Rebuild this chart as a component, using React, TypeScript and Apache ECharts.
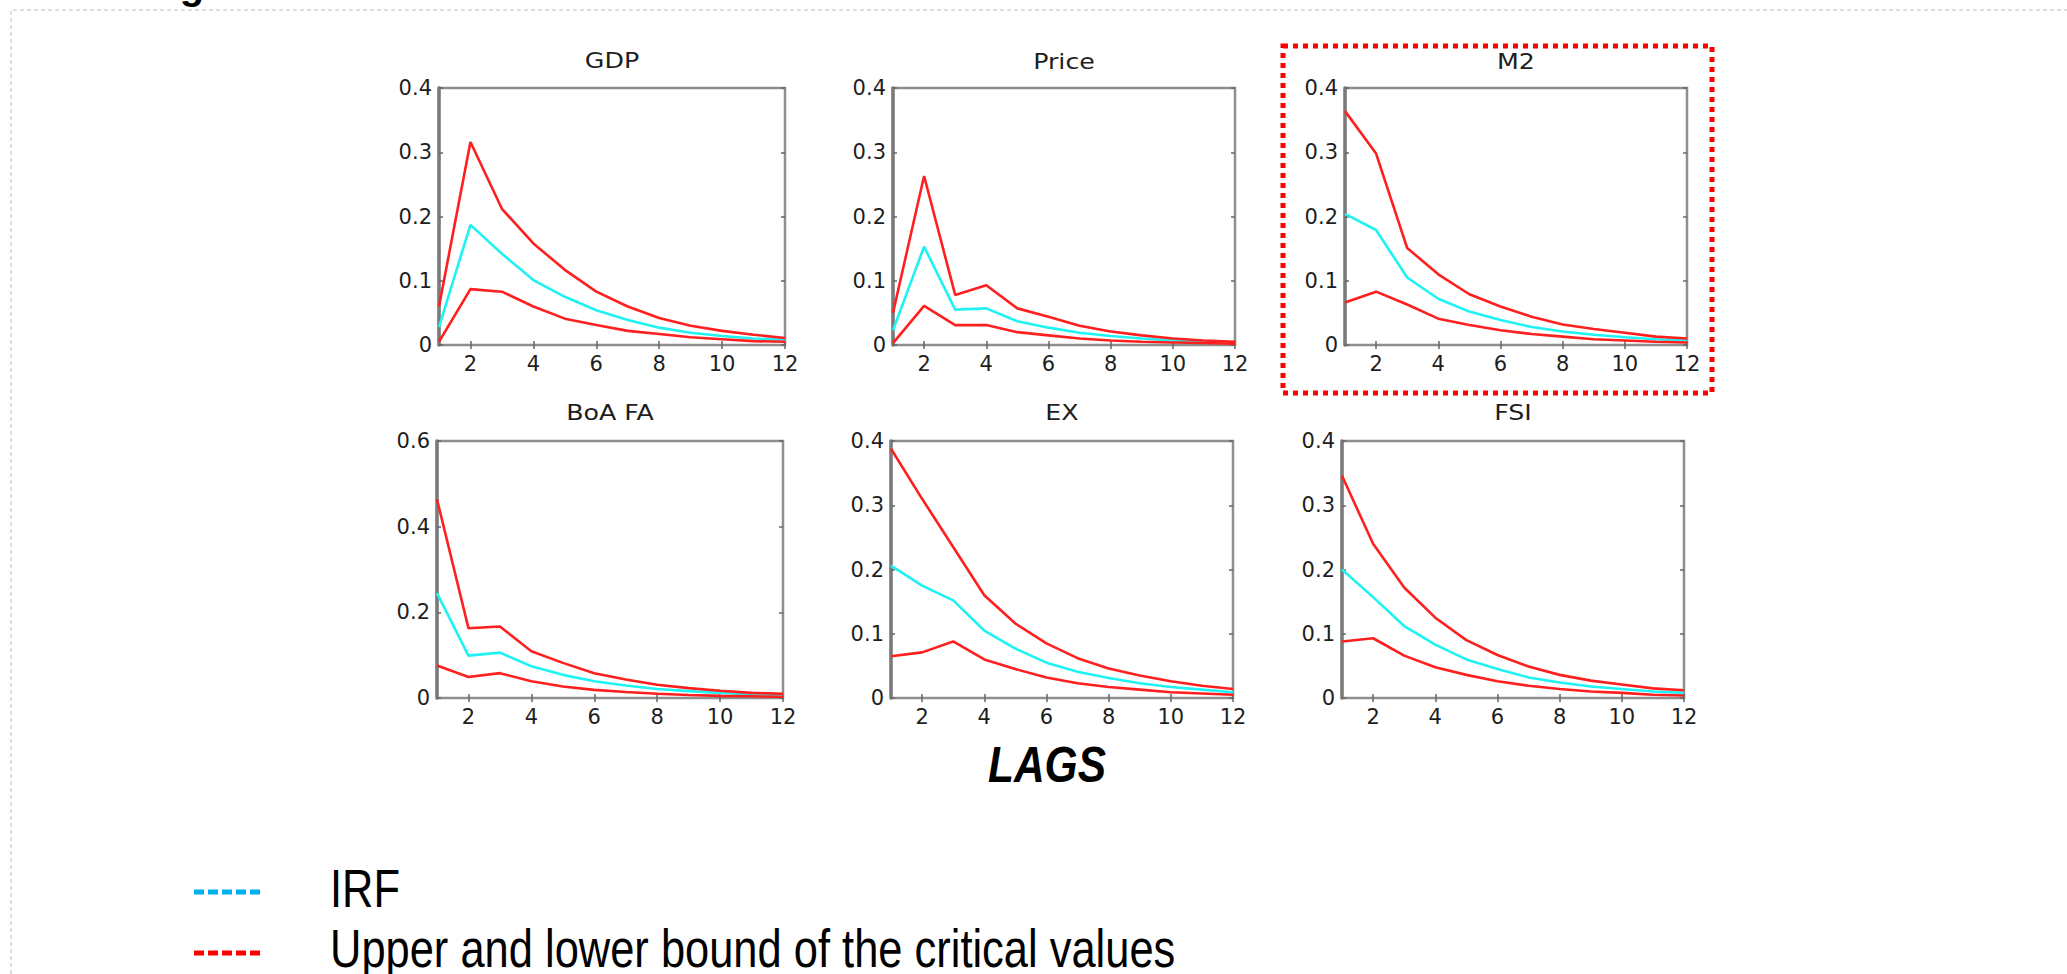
import React, { useEffect, useRef } from 'react';
import * as echarts from 'echarts';

// ---------- data ----------
const LAGS = ['1', '2', '3', '4', '5', '6', '7', '8', '9', '10', '11', '12'];
const PANEL_TITLES = ['GDP', 'Price', 'M2', 'BoA FA', 'EX', 'FSI'];
const Y_MAX = [0.4, 0.4, 0.4, 0.6, 0.4, 0.4];
const Y_STEP = [0.1, 0.1, 0.1, 0.2, 0.1, 0.1];

const GDP_UPPER = [0.06, 0.316, 0.212, 0.158, 0.117, 0.083, 0.06, 0.042, 0.03, 0.022, 0.016, 0.011];
const GDP_IRF = [0.028, 0.187, 0.142, 0.101, 0.075, 0.054, 0.039, 0.027, 0.019, 0.014, 0.01, 0.008];
const GDP_LOWER = [0.005, 0.087, 0.083, 0.06, 0.041, 0.031, 0.022, 0.017, 0.012, 0.009, 0.006, 0.005];

const PRICE_UPPER = [0.05, 0.263, 0.078, 0.093, 0.057, 0.044, 0.03, 0.021, 0.015, 0.01, 0.007, 0.005];
const PRICE_IRF = [0.023, 0.153, 0.055, 0.057, 0.037, 0.027, 0.019, 0.014, 0.01, 0.007, 0.005, 0.004];
const PRICE_LOWER = [0.003, 0.061, 0.031, 0.031, 0.02, 0.015, 0.01, 0.007, 0.005, 0.004, 0.003, 0.002];

const M2_UPPER = [0.364, 0.298, 0.151, 0.11, 0.079, 0.06, 0.044, 0.032, 0.025, 0.019, 0.013, 0.01];
const M2_IRF = [0.204, 0.179, 0.105, 0.072, 0.052, 0.039, 0.028, 0.021, 0.016, 0.012, 0.009, 0.007];
const M2_LOWER = [0.066, 0.083, 0.063, 0.041, 0.031, 0.023, 0.017, 0.013, 0.009, 0.007, 0.005, 0.004];

const BOA_UPPER = [0.464, 0.163, 0.167, 0.109, 0.082, 0.058, 0.043, 0.031, 0.023, 0.017, 0.012, 0.01];
const BOA_IRF = [0.245, 0.099, 0.106, 0.074, 0.054, 0.039, 0.029, 0.021, 0.016, 0.012, 0.009, 0.007];
const BOA_LOWER = [0.076, 0.049, 0.058, 0.039, 0.027, 0.019, 0.014, 0.01, 0.007, 0.005, 0.004, 0.003];

const EX_UPPER = [0.388, 0.31, 0.235, 0.16, 0.116, 0.085, 0.062, 0.046, 0.035, 0.026, 0.019, 0.014];
const EX_IRF = [0.206, 0.175, 0.152, 0.105, 0.077, 0.055, 0.041, 0.031, 0.023, 0.017, 0.013, 0.009];
const EX_LOWER = [0.065, 0.071, 0.088, 0.06, 0.045, 0.032, 0.023, 0.017, 0.013, 0.009, 0.007, 0.005];

const FSI_UPPER = [0.346, 0.24, 0.172, 0.125, 0.09, 0.067, 0.049, 0.036, 0.027, 0.021, 0.015, 0.012];
const FSI_IRF = [0.2, 0.157, 0.112, 0.083, 0.06, 0.045, 0.032, 0.024, 0.018, 0.014, 0.01, 0.008];
const FSI_LOWER = [0.088, 0.093, 0.066, 0.048, 0.036, 0.026, 0.019, 0.014, 0.01, 0.008, 0.005, 0.004];

const PANEL_DATA = [
  [GDP_UPPER, GDP_IRF, GDP_LOWER],
  [PRICE_UPPER, PRICE_IRF, PRICE_LOWER],
  [M2_UPPER, M2_IRF, M2_LOWER],
  [BOA_UPPER, BOA_IRF, BOA_LOWER],
  [EX_UPPER, EX_IRF, EX_LOWER],
  [FSI_UPPER, FSI_IRF, FSI_LOWER],
];

const X_AXIS_TITLE = 'LAGS';
const LEGEND_IRF = 'IRF';
const LEGEND_BOUNDS = 'Upper and lower bound of the critical values';

// ---------- layout / style ----------
const GRIDS = [
  { left: 439, top: 88, width: 346, height: 257 },
  { left: 893, top: 88, width: 342, height: 257 },
  { left: 1345, top: 88, width: 342, height: 257 },
  { left: 437, top: 441, width: 346, height: 257 },
  { left: 891, top: 441, width: 342, height: 257 },
  { left: 1342, top: 441, width: 342, height: 257 },
];
const TITLE_Y = [61, 62, 62, 413, 413, 413];

const RED = '#ff1f1f';
const CYAN = '#1ff2f2';
const AXIS_FONT = '"DejaVu Sans", "Liberation Sans", Arial, sans-serif';
const SANS = '"Liberation Sans", Arial, Helvetica, sans-serif';

function buildOption() {
  const grid: any[] = [];
  const xAxis: any[] = [];
  const yAxis: any[] = [];
  const series: any[] = [];
  const graphic: any[] = [];

  GRIDS.forEach((g, i) => {
    grid.push({
      left: g.left,
      top: g.top,
      width: g.width,
      height: g.height,
      show: true,
      borderColor: '#8e8e8e',
      borderWidth: 2.5,
      backgroundColor: '#ffffff',
    });
    const oddOnly = (idx: number) => idx % 2 === 1;
    xAxis.push({
      type: 'category',
      gridIndex: i,
      data: LAGS,
      boundaryGap: false,
      position: 'bottom',
      axisLine: { show: false },
      axisTick: { show: true, inside: true, length: 4, interval: oddOnly, lineStyle: { color: '#666', width: 1.5 } },
      axisLabel: {
        interval: oddOnly,
        margin: 8,
        fontSize: 21,
        fontFamily: AXIS_FONT,
        color: '#1e1e1e',
      },
      splitLine: { show: false },
    });
    xAxis.push({
      type: 'category',
      gridIndex: i,
      data: LAGS,
      boundaryGap: false,
      position: 'top',
      axisLine: { show: false },
      axisTick: { show: true, inside: true, length: 4, interval: oddOnly, lineStyle: { color: '#666', width: 1.5 } },
      axisLabel: { show: false },
      splitLine: { show: false },
    });
    yAxis.push({
      type: 'value',
      gridIndex: i,
      min: 0,
      max: Y_MAX[i],
      interval: Y_STEP[i],
      position: 'left',
      axisLine: { show: true, lineStyle: { color: '#7a7a7a', width: 3.5 } },
      axisTick: { show: true, inside: true, length: 4, lineStyle: { color: '#666', width: 1.5 } },
      axisLabel: {
        margin: 7,
        fontSize: 21,
        fontFamily: AXIS_FONT,
        color: '#1e1e1e',
      },
      splitLine: { show: false },
    });
    yAxis.push({
      type: 'value',
      gridIndex: i,
      min: 0,
      max: Y_MAX[i],
      interval: Y_STEP[i],
      position: 'right',
      axisLine: { show: false },
      axisTick: { show: true, inside: true, length: 4, lineStyle: { color: '#666', width: 1.5 } },
      axisLabel: { show: false },
      splitLine: { show: false },
    });

    const [upper, irf, lower] = PANEL_DATA[i];
    const mk = (name: string, data: number[], color: string, z: number) => ({
      type: 'line',
      name,
      xAxisIndex: i * 2,
      yAxisIndex: i * 2,
      data,
      symbol: 'none',
      z,
      lineStyle: { color, width: 2.6 },
      itemStyle: { color },
    });
    series.push(mk(PANEL_TITLES[i] + ' upper', upper, RED, 3));
    series.push(mk(PANEL_TITLES[i] + ' IRF', irf, CYAN, 2));
    series.push(mk(PANEL_TITLES[i] + ' lower', lower, RED, 3));

    graphic.push({
      type: 'text',
      x: g.left + g.width / 2,
      y: TITLE_Y[i],
      scaleX: 1.15,
      style: {
        text: PANEL_TITLES[i],
        fill: '#1e1e1e',
        font: '22px ' + AXIS_FONT,
        textAlign: 'center',
        textVerticalAlign: 'middle',
        verticalAlign: 'middle',
      },
    });
  });

  // outer dashed frame (page border)
  graphic.push({
    type: 'polyline',
    shape: { points: [[11, 974], [11, 10], [2067, 10]] },
    style: { fill: 'none', stroke: '#bcbcbc', lineWidth: 1, lineDash: [4, 3] },
    silent: true,
  });

  // clipped caption fragment at top
  graphic.push({
    type: 'text',
    x: 192,
    y: -15,
    style: {
      text: 'g',
      fill: '#000',
      font: 'bold 40px ' + SANS,
      textAlign: 'center',
      textVerticalAlign: 'middle',
      verticalAlign: 'middle',
    },
  });

  // red dotted highlight box around M2
  graphic.push({
    type: 'rect',
    shape: { x: 1283, y: 46, width: 429, height: 347 },
    style: { fill: 'none', stroke: '#ff0000', lineWidth: 5, lineDash: [5, 5] },
    silent: true,
    z: 10,
  });

  // LAGS
  graphic.push({
    type: 'text',
    x: 1047,
    y: 765,
    scaleX: 0.85,
    style: {
      text: X_AXIS_TITLE,
      fill: '#000',
      font: 'italic bold 50px ' + SANS,
      textAlign: 'center',
      textVerticalAlign: 'middle',
      verticalAlign: 'middle',
    },
  });

  // legend annotations
  graphic.push({
    type: 'line',
    shape: { x1: 194, y1: 892, x2: 264, y2: 892 },
    style: { stroke: '#00b0f0', lineWidth: 5, lineDash: [10, 4] },
  });
  graphic.push({
    type: 'line',
    shape: { x1: 194, y1: 953, x2: 264, y2: 953 },
    style: { stroke: '#ff0000', lineWidth: 5, lineDash: [10, 4] },
  });
  graphic.push({
    type: 'text',
    x: 330,
    y: 888,
    scaleX: 0.82,
    style: {
      text: LEGEND_IRF,
      fill: '#000',
      font: '53px ' + SANS,
      textAlign: 'left',
      textVerticalAlign: 'middle',
      verticalAlign: 'middle',
    },
  });
  graphic.push({
    type: 'text',
    x: 330,
    y: 948,
    scaleX: 0.82,
    style: {
      text: LEGEND_BOUNDS,
      fill: '#000',
      font: '53px ' + SANS,
      textAlign: 'left',
      textVerticalAlign: 'middle',
      verticalAlign: 'middle',
    },
  });

  return {
    animation: false,
    backgroundColor: '#ffffff',
    grid,
    xAxis,
    yAxis,
    series,
    graphic,
  };
}

export default function App() {
  const ref = useRef<HTMLDivElement>(null);
  useEffect(() => {
    if (!ref.current) return;
    const chart = echarts.init(ref.current, undefined, { renderer: 'svg' });
    chart.setOption(buildOption() as any);
    return () => chart.dispose();
  }, []);
  return (
    <div
      ref={ref}
      style={{ position: 'fixed', left: 0, top: 0, width: '2067px', height: '974px', background: '#fff' }}
    />
  );
}
